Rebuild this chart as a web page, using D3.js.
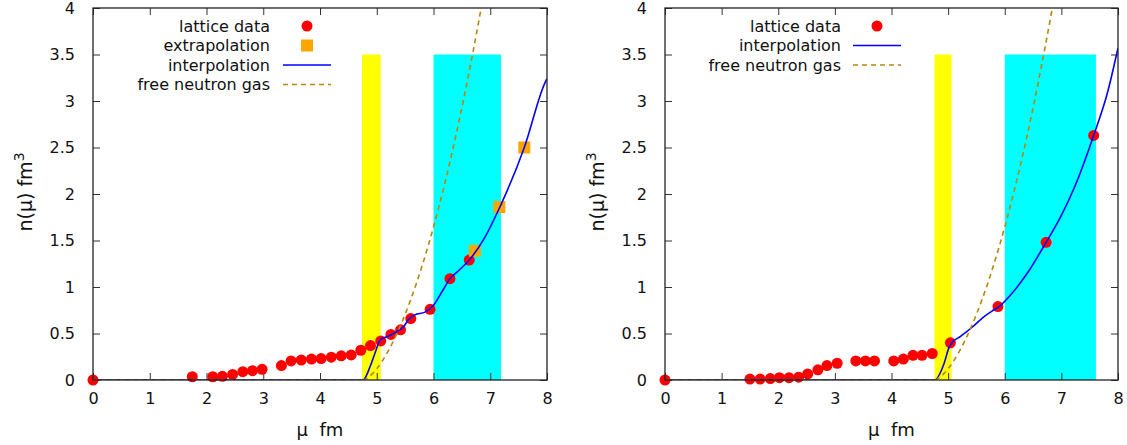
<!DOCTYPE html>
<html><head><meta charset="utf-8">
<script src="https://cdn.jsdelivr.net/npm/d3@7"></script>
<style>body{margin:0;background:#fff}svg{display:block}text{font-family:"DejaVu Sans",sans-serif;fill:#111}</style>
</head><body><svg id="c" width="1127" height="445"></svg>
<script>
const xTicks=[0,1,2,3,4,5,6,7,8];
const yTicks=[0,0.5,1,1.5,2,2.5,3,3.5,4];
const yTickLabels=["0","0.5","1","1.5","2","2.5","3","3.5","4"];

// left panel
const latticeL=[[0,0],[1.75,0.035],[2.11,0.035],[2.28,0.04],[2.46,0.06],[2.64,0.09],[2.81,0.10],[2.98,0.115],[3.32,0.155],[3.49,0.205],[3.67,0.215],[3.85,0.225],[4.02,0.23],[4.20,0.245],[4.375,0.26],[4.55,0.27],[4.72,0.32],[4.89,0.37],[5.07,0.42],[5.25,0.49],[5.42,0.54],[5.60,0.66],[5.94,0.76],[6.29,1.09],[6.63,1.29]];
const extrapL=[[6.73,1.39],[7.16,1.86],[7.60,2.50]];
const interpL=[[0,0],[4.76,0],[4.88,0.14],[4.97,0.29],[5.06,0.43],[5.20,0.47],[5.35,0.52],[5.47,0.57],[5.56,0.65],[5.67,0.70],[5.85,0.73],[5.98,0.79],[6.17,0.97],[6.29,1.09],[6.45,1.18],[6.63,1.29],[6.91,1.54],[7.17,1.86],[7.60,2.50],[7.96,3.19],[8,3.24]];
// right panel
const latticeR=[[0,0],[1.50,0.01],[1.68,0.01],[1.86,0.015],[2.02,0.025],[2.19,0.025],[2.36,0.03],[2.52,0.065],[2.70,0.11],[2.86,0.155],[3.04,0.18],[3.37,0.205],[3.54,0.205],[3.70,0.205],[4.04,0.205],[4.21,0.225],[4.38,0.265],[4.54,0.265],[4.72,0.285],[5.04,0.40],[5.88,0.79],[6.73,1.48],[7.57,2.63]];
const interpR=[[0,0],[4.76,0],[4.93,0.18],[5.01,0.34],[5.06,0.395],[5.22,0.47],[5.43,0.57],[5.63,0.68],[5.81,0.755],[5.90,0.79],[6.11,0.92],[6.40,1.15],[6.73,1.48],[7.0,1.77],[7.25,2.1],[7.57,2.63],[7.81,3.08],[8,3.57]];
// free neutron gas
const freeGas=[[0,0],[4.76,0],[4.8,0.008],[4.9,0.053],[5.0,0.121],[5.1,0.207],[5.2,0.31],[5.3,0.427],[5.4,0.56],[5.5,0.706],[5.6,0.867],[5.7,1.041],[5.8,1.229],[5.9,1.43],[6.0,1.645],[6.1,1.874],[6.2,2.117],[6.3,2.373],[6.4,2.644],[6.5,2.928],[6.6,3.227],[6.7,3.54],[6.8,3.867],[6.85,4.036]];
const bandsL=[{x0:4.74,x1:5.07,top:3.5,c:"#ffff00"},{x0:6.0,x1:7.19,top:3.5,c:"#00ffff"}];
const bandsR=[{x0:4.76,x1:5.06,top:3.5,c:"#ffff00"},{x0:6.0,x1:7.61,top:3.5,c:"#00ffff"}];
const legendL=["lattice data","extrapolation","interpolation","free neutron gas"];
const legendR=["lattice data","interpolation","free neutron gas"];

const svg=d3.select("#c");
function panel(id,x0,x1,lattice,extrap,interp,bands,legend,legTextX,legSymX){
  const xs=d3.scaleLinear().domain([0,8]).range([x0,x1]);
  const ys=d3.scaleLinear().domain([0,4]).range([380,8]);
  const g=svg.append("g");
  g.append("clipPath").attr("id",id).append("rect").attr("x",x0).attr("y",8).attr("width",x1-x0).attr("height",372);
  const pg=g.append("g").attr("clip-path",`url(#${id})`);
  pg.selectAll("rect.b").data(bands).join("rect").attr("x",d=>xs(d.x0)).attr("width",d=>xs(d.x1)-xs(d.x0))
    .attr("y",d=>ys(d.top)).attr("height",d=>ys(0)-ys(d.top)).attr("fill",d=>d.c);
  const ax=g.append("g");
  const bottom=d3.axisBottom(xs).tickValues(xTicks).tickSize(-7).tickPadding(14).tickFormat(d3.format("d"));
  const top=d3.axisTop(xs).tickValues(xTicks).tickSize(-7).tickFormat("");
  const left=d3.axisLeft(ys).tickValues(yTicks).tickSize(-7).tickPadding(18).tickFormat((d,i)=>yTickLabels[i]);
  const right=d3.axisRight(ys).tickValues(yTicks).tickSize(-7).tickFormat("");
  [[bottom,`translate(0,380)`,true],[top,`translate(0,8)`],[left,`translate(${x0},0)`],[right,`translate(${x1},0)`]].forEach(([a,t,isB])=>{
    const s=ax.append("g").attr("transform",t).call(a);
    s.select(".domain").remove();
    s.selectAll("line").attr("stroke","#333").attr("stroke-width",1);
    s.selectAll("text").attr("font-size",16).attr("fill","#111").style("font-family","DejaVu Sans");
    if(isB) s.selectAll("text").attr("dy","0.6em");
  });
  const line=d3.line().x(d=>xs(d[0])).y(d=>ys(d[1])).curve(d3.curveMonotoneX);
  const mg=g.append("g");
  mg.selectAll("circle.p").data(lattice).join("circle").attr("cx",d=>xs(d[0])).attr("cy",d=>ys(d[1])).attr("r",5.5).attr("fill","#ff0000");
  if(extrap) mg.selectAll("rect.e").data(extrap).join("rect").attr("x",d=>xs(d[0])-6).attr("y",d=>ys(d[1])-6).attr("width",12).attr("height",12).attr("fill","#ffa500");
  const lg2=g.append("g").attr("clip-path",`url(#${id})`);
  lg2.append("path").datum(interp).attr("d",line).attr("fill","none").attr("stroke","#0000ff").attr("stroke-width",1.6);
  lg2.append("path").datum(freeGas).attr("d",line).attr("fill","none").attr("stroke","#b8860b").attr("stroke-width",1.6).attr("stroke-dasharray","5,4");
  g.append("rect").attr("x",x0).attr("y",8).attr("width",x1-x0).attr("height",372).attr("fill","none").attr("stroke","#222").attr("stroke-width",1.3);
  const lg=g.append("g");
  legend.forEach((t,i)=>{
    const y=26+i*19.5;
    lg.append("text").attr("x",legTextX).attr("y",y).attr("dy","0.35em").attr("text-anchor","end").attr("font-size",16).text(t);
    if(t=="lattice data") lg.append("circle").attr("cx",legSymX).attr("cy",y).attr("r",5.5).attr("fill","#ff0000");
    else if(t=="extrapolation") lg.append("rect").attr("x",legSymX-6).attr("y",y-6).attr("width",12).attr("height",12).attr("fill","#ffa500");
    else if(t=="interpolation") lg.append("line").attr("x1",legSymX-24).attr("x2",legSymX+24).attr("y1",y).attr("y2",y).attr("stroke","#0000ff").attr("stroke-width",1.6);
    else lg.append("line").attr("x1",legSymX-24).attr("x2",legSymX+24).attr("y1",y).attr("y2",y).attr("stroke","#b8860b").attr("stroke-width",1.6).attr("stroke-dasharray","5,4");
  });
  g.append("text").attr("x",(x0+x1)/2).attr("y",436).attr("text-anchor","middle").attr("font-size",18).attr("xml:space","preserve").text("μ  fm");
  const yl=g.append("text").attr("transform",`translate(${x0-61},192) rotate(-90)`).attr("text-anchor","middle").attr("font-size",19);
  yl.append("tspan").text("n(μ) fm");
  yl.append("tspan").attr("font-size",14).attr("dy","-0.55em").text("3");
}
panel("cl",93,547,latticeL,extrapL,interpL,bandsL,legendL,270,307);
panel("cr",665,1118,latticeR,null,interpR,bandsR,legendR,841,877);
</script></body></html>
